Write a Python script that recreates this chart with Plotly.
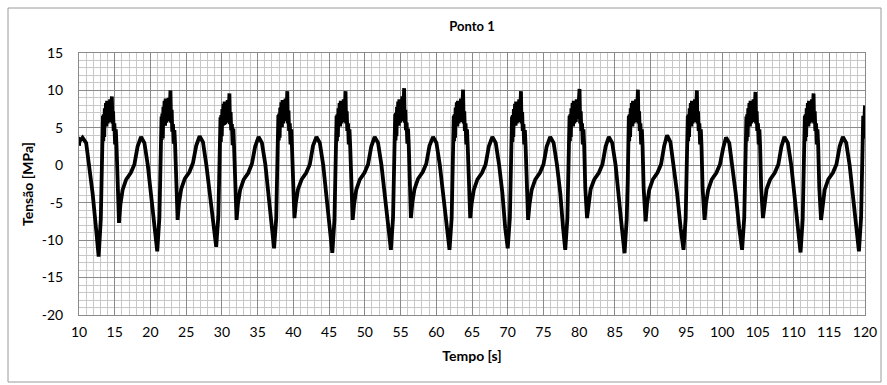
import plotly.graph_objects as go

# ---- data ----
tempo_s = [
    10.00, 10.08, 10.25, 10.50, 11.00, 11.45, 11.90, 12.40,
    # cycle 1
    12.75, 13.05, 13.20, 13.31, 13.35, 13.40, 13.46, 13.53, 13.61, 13.69, 13.77, 13.85, 13.93, 14.03, 14.13, 14.23,
    14.35, 14.47, 14.60, 14.68, 14.77, 14.85, 14.95, 15.05, 15.15, 15.25, 15.40, 15.60, 15.80, 16.10, 16.60, 17.25,
    17.75, 18.20, 18.68, 19.15, 19.63, 20.08, 20.55,
    # cycle 2
    20.95, 21.25, 21.40, 21.51, 21.55, 21.60, 21.66, 21.73, 21.81, 21.89, 21.97, 22.05, 22.13, 22.23, 22.33, 22.43,
    22.55, 22.67, 22.80, 22.88, 22.97, 23.05, 23.15, 23.25, 23.35, 23.45, 23.60, 23.80, 24.00, 24.30, 24.80, 25.45,
    25.95, 26.40, 26.88, 27.35, 27.83, 28.28, 28.75,
    # cycle 3
    29.20, 29.50, 29.65, 29.76, 29.80, 29.85, 29.91, 29.98, 30.06, 30.14, 30.22, 30.30, 30.38, 30.48, 30.58, 30.68,
    30.80, 30.92, 31.05, 31.13, 31.22, 31.30, 31.40, 31.50, 31.60, 31.70, 31.85, 32.05, 32.25, 32.55, 33.05, 33.70,
    34.20, 34.65, 35.13, 35.60, 36.08, 36.53, 37.00,
    # cycle 4
    37.30, 37.60, 37.75, 37.86, 37.90, 37.95, 38.01, 38.08, 38.16, 38.24, 38.32, 38.40, 38.48, 38.58, 38.68, 38.78,
    38.90, 39.02, 39.15, 39.23, 39.32, 39.40, 39.50, 39.60, 39.70, 39.80, 39.95, 40.15, 40.35, 40.65, 41.15, 41.80,
    42.30, 42.75, 43.23, 43.70, 44.18, 44.63, 45.10,
    # cycle 5
    45.45, 45.75, 45.90, 46.01, 46.05, 46.10, 46.16, 46.23, 46.31, 46.39, 46.47, 46.55, 46.63, 46.73, 46.83, 46.93,
    47.05, 47.17, 47.30, 47.38, 47.47, 47.55, 47.65, 47.75, 47.85, 47.95, 48.10, 48.30, 48.50, 48.80, 49.30, 49.95,
    50.45, 50.90, 51.38, 51.85, 52.33, 52.78, 53.25,
    # cycle 6
    53.65, 53.95, 54.10, 54.21, 54.25, 54.30, 54.36, 54.43, 54.51, 54.59, 54.67, 54.75, 54.83, 54.93, 55.03, 55.13,
    55.25, 55.37, 55.50, 55.58, 55.67, 55.75, 55.85, 55.95, 56.05, 56.15, 56.30, 56.45, 56.65, 56.95, 57.45, 58.10,
    58.60, 59.05, 59.55, 60.02, 60.50, 60.95, 61.42,
    # cycle 7
    61.85, 62.15, 62.30, 62.41, 62.45, 62.50, 62.56, 62.63, 62.71, 62.79, 62.87, 62.95, 63.03, 63.13, 63.23, 63.33,
    63.45, 63.57, 63.75, 63.83, 63.92, 64.00, 64.10, 64.20, 64.30, 64.40, 64.55, 64.75, 64.95, 65.25, 65.75, 66.40,
    66.90, 67.35, 67.85, 68.32, 68.80, 69.25, 69.65,
    # cycle 8
    70.00, 70.30, 70.45, 70.56, 70.60, 70.65, 70.71, 70.78, 70.86, 70.94, 71.02, 71.10, 71.18, 71.28, 71.38, 71.48,
    71.60, 71.72, 71.85, 71.93, 72.02, 72.10, 72.20, 72.30, 72.40, 72.50, 72.65, 72.85, 73.05, 73.35, 73.85, 74.50,
    75.00, 75.45, 75.95, 76.42, 76.90, 77.35, 77.75,
    # cycle 9
    78.05, 78.35, 78.50, 78.61, 78.65, 78.70, 78.76, 78.83, 78.91, 78.99, 79.07, 79.15, 79.23, 79.33, 79.43, 79.53,
    79.65, 79.80, 80.05, 80.13, 80.22, 80.30, 80.40, 80.50, 80.60, 80.70, 80.85, 81.10, 81.30, 81.60, 82.10, 82.75,
    83.25, 83.70, 84.15, 84.62, 85.10, 85.55, 86.00,
    # cycle 10
    86.35, 86.65, 86.80, 86.91, 86.95, 87.00, 87.06, 87.13, 87.21, 87.29, 87.37, 87.45, 87.53, 87.63, 87.73, 87.83,
    87.95, 88.07, 88.22, 88.30, 88.39, 88.47, 88.57, 88.67, 88.77, 88.87, 89.02, 89.30, 89.50, 89.80, 90.30, 90.95,
    91.45, 91.90, 92.30, 92.77, 93.25, 93.70, 94.20,
    # cycle 11
    94.60, 94.90, 95.05, 95.16, 95.20, 95.25, 95.31, 95.38, 95.46, 95.54, 95.62, 95.70, 95.78, 95.88, 95.98, 96.08,
    96.20, 96.32, 96.47, 96.55, 96.64, 96.72, 96.82, 96.92, 97.02, 97.12, 97.27, 97.55, 97.75, 98.05, 98.55, 99.20,
    99.70, 100.15, 100.55, 101.00, 101.45, 101.90, 102.40,
    # cycle 12
    102.80, 103.10, 103.25, 103.36, 103.40, 103.45, 103.51, 103.58, 103.66, 103.74, 103.82, 103.90, 103.98, 104.08,
    104.18, 104.28, 104.40, 104.52, 104.67, 104.75, 104.84, 104.92, 105.02, 105.12, 105.22, 105.32, 105.47, 105.72,
    105.92, 106.22, 106.72, 107.37, 107.87, 108.30, 108.72, 109.20, 109.68, 110.13, 110.60,
    # cycle 13
    110.98, 111.28, 111.43, 111.54, 111.58, 111.63, 111.69, 111.76, 111.84, 111.92, 112.00, 112.08, 112.16, 112.26,
    112.36, 112.46, 112.58, 112.68, 112.80, 112.88, 112.97, 113.05, 113.15, 113.25, 113.35, 113.45, 113.60, 113.85,
    114.05, 114.35, 114.85, 115.50, 116.00, 116.45, 116.90, 117.37, 117.85, 118.30, 118.78,
    # cycle 14
    119.15, 119.45, 119.60, 119.71, 119.75, 119.80, 119.86, 119.92, 120.00,
]

tensao_mpa = [
    2.6, 3.5, 3.4, 3.7, 3.0, 0.0, -3.7, -8.6,
    # cycle 1
    -12.2, -7.2, -2.0, 2.4, 6.6, 3.2, 6.8, 3.8, 7.6, 5.4, 8.3, 5.2, 8.6, 5.6, 7.9, 5.8,
    8.8, 6.2, 9.2, 5.6, 7.2, 4.6, 5.6, 2.8, 4.8, 2.6, -3.0, -7.7, -5.2, -3.3, -1.9, -1.0,
    0.1, 2.5, 3.8, 3.0, 0.0, -3.7, -8.4,
    # cycle 2
    -11.5, -7.0, -1.8, 2.6, 6.5, 3.4, 6.9, 3.6, 7.8, 5.5, 8.6, 5.3, 8.9, 5.7, 8.1, 5.9,
    9.0, 6.4, 10.0, 5.7, 7.4, 4.5, 5.5, 2.9, 4.7, 2.7, -2.8, -7.3, -5.0, -3.2, -1.8, -0.9,
    0.3, 2.6, 3.9, 3.1, 0.0, -3.6, -8.2,
    # cycle 3
    -10.9, -6.8, -1.9, 2.5, 6.4, 3.1, 6.7, 3.9, 7.5, 5.3, 8.2, 5.4, 8.5, 5.5, 7.8, 5.7,
    8.7, 6.1, 9.6, 5.5, 7.1, 4.7, 5.5, 2.7, 4.9, 2.5, -3.1, -7.3, -5.1, -3.3, -1.9, -1.0,
    0.2, 2.5, 3.8, 3.0, 0.1, -3.7, -8.3,
    # cycle 4
    -11.1, -7.1, -2.1, 2.3, 6.7, 3.3, 6.9, 3.7, 7.7, 5.5, 8.4, 5.1, 8.7, 5.6, 8.0, 5.9,
    8.9, 6.3, 9.9, 5.6, 7.3, 4.6, 5.6, 2.8, 4.8, 2.6, -2.9, -7.05, -5.0, -3.2, -1.9, -1.0,
    0.1, 2.6, 3.8, 3.0, 0.0, -3.8, -8.5,
    # cycle 5
    -11.7, -7.3, -2.0, 2.4, 6.6, 3.2, 6.8, 3.8, 7.6, 5.4, 8.3, 5.2, 8.6, 5.6, 7.9, 5.8,
    8.8, 6.2, 9.9, 5.6, 7.2, 4.6, 5.6, 2.8, 4.8, 2.6, -3.0, -7.3, -5.2, -3.3, -1.9, -1.0,
    0.1, 2.5, 3.8, 3.0, 0.0, -3.7, -8.4,
    # cycle 6
    -11.3, -7.0, -1.9, 2.5, 6.8, 3.3, 7.0, 3.9, 7.8, 5.6, 8.5, 5.3, 8.8, 5.7, 8.2, 5.9,
    9.2, 6.3, 10.3, 5.7, 7.4, 4.7, 5.7, 2.9, 4.9, 2.7, -2.8, -7.05, -5.0, -3.2, -1.8, -0.9,
    0.2, 2.6, 3.8, 3.0, 0.0, -3.6, -8.3,
    # cycle 7
    -11.3, -7.1, -2.0, 2.4, 6.6, 3.2, 6.8, 3.7, 7.7, 5.4, 8.4, 5.2, 8.6, 5.6, 8.0, 5.8,
    8.9, 6.2, 10.1, 5.6, 7.2, 4.6, 5.6, 2.8, 4.8, 2.6, -3.0, -7.05, -5.1, -3.3, -1.9, -1.0,
    0.1, 2.5, 3.8, 3.0, 0.0, -3.7, -8.4,
    # cycle 8
    -11.1, -7.0, -1.9, 2.5, 6.5, 3.1, 6.7, 3.8, 7.5, 5.4, 8.2, 5.3, 8.5, 5.6, 7.8, 5.8,
    8.8, 6.1, 9.9, 5.6, 7.1, 4.6, 5.5, 2.8, 4.7, 2.6, -3.0, -7.3, -5.2, -3.3, -1.9, -1.0,
    0.1, 2.5, 3.8, 3.0, 0.0, -3.7, -8.4,
    # cycle 9
    -11.3, -7.1, -2.0, 2.4, 6.6, 3.2, 6.8, 3.8, 7.6, 5.4, 8.3, 5.2, 8.6, 5.6, 7.9, 5.8,
    8.8, 6.2, 10.2, 5.6, 7.2, 4.6, 5.6, 2.8, 4.8, 2.6, -3.0, -7.05, -5.0, -3.2, -1.9, -1.0,
    0.1, 2.5, 3.8, 3.0, 0.0, -3.8, -8.6,
    # cycle 10
    -11.75, -7.2, -2.0, 2.4, 6.6, 3.2, 6.8, 3.8, 7.6, 5.4, 8.3, 5.2, 8.6, 5.6, 7.9, 5.8,
    8.8, 6.2, 10.1, 5.6, 7.2, 4.6, 5.6, 2.8, 4.8, 2.6, -3.0, -7.5, -5.2, -3.3, -1.9, -1.0,
    0.1, 2.6, 4.0, 3.1, 0.0, -3.7, -8.4,
    # cycle 11
    -11.3, -7.1, -2.0, 2.4, 6.6, 3.2, 6.8, 3.8, 7.6, 5.4, 8.3, 5.2, 8.6, 5.6, 7.9, 5.8,
    8.8, 6.2, 10.0, 5.6, 7.2, 4.6, 5.6, 2.8, 4.8, 2.6, -3.0, -7.3, -5.1, -3.3, -1.9, -1.0,
    0.1, 2.3, 3.7, 3.0, 0.0, -3.7, -8.4,
    # cycle 12
    -11.3, -7.0, -1.9, 2.5, 6.5, 3.2, 6.8, 3.8, 7.6, 5.4, 8.3, 5.2, 8.6, 5.6,
    7.9, 5.8, 8.8, 6.2, 9.8, 5.6, 7.2, 4.6, 5.6, 2.8, 4.8, 2.6, -3.0, -7.05,
    -5.0, -3.2, -1.9, -1.0, 0.1, 2.5, 3.8, 3.0, 0.0, -3.7, -8.4,
    # cycle 13
    -11.65, -7.2, -2.0, 2.4, 6.6, 3.2, 6.8, 3.8, 7.6, 5.4, 8.3, 5.2, 8.6, 5.6,
    7.9, 5.8, 8.8, 6.2, 9.6, 5.6, 7.2, 4.6, 5.6, 2.8, 4.8, 2.6, -3.0, -7.3,
    -5.2, -3.3, -1.9, -1.0, 0.1, 2.5, 3.8, 3.0, 0.0, -3.7, -8.4,
    # cycle 14
    -11.5, -7.0, -2.0, 2.4, 6.6, 3.6, 7.0, 3.8, 8.0,
]

x_tick_vals = list(range(10, 121, 5))
x_tick_text = [str(v) for v in x_tick_vals]
y_tick_vals = [-20, -15, -10, -5, 0, 5, 10, 15]
y_tick_text = ["-20", "-15", "-10", "-5", "0", "5", "10", "15"]

titulo = "Ponto 1"
x_titulo = "Tempo [s]"
y_titulo = "Tensão [MPa]"

FONT = "Lato, 'Open Sans', sans-serif"
MAJOR = "#8a8a8a"
MINOR = "#c8c8c8"

fig = go.Figure()
fig.add_trace(go.Scatter(
    x=tempo_s, y=tensao_mpa, mode="lines",
    line=dict(color="#000000", width=3.8),
    showlegend=False, hoverinfo="x+y",
))

W, H = 887, 385
L, R, T, B = 79, 22, 53, 70
pw, ph = W - L - R, H - T - B

def px_to_paper_x(px):
    return (px - L) / pw

def py_to_paper_y(py):
    return (H - B - py) / ph

fig.update_layout(
    width=W, height=H,
    margin=dict(l=L, r=R, t=T, b=B, pad=0, autoexpand=False),
    paper_bgcolor="white", plot_bgcolor="white",
    font=dict(family=FONT, size=14, color="#000000"),
    title=dict(text="<b>" + titulo + "</b>", x=0.5, xanchor="center", xref="paper",
               y=1 - 26 / H, yanchor="middle", font=dict(size=13, family=FONT)),
    xaxis=dict(
        range=[10, 120], tickvals=x_tick_vals, ticktext=x_tick_text, ticks="",
        showline=True, linecolor=MAJOR, linewidth=1, automargin=False,
        mirror=True, showgrid=True, gridcolor=MAJOR, gridwidth=1, zeroline=False,
        minor=dict(dtick=1, tick0=10, showgrid=True, gridcolor=MINOR, gridwidth=1),
        tickfont=dict(size=14), ticklabelstandoff=4,
        title=dict(text="<b>" + x_titulo + "</b>", font=dict(size=14), standoff=12),
    ),
    yaxis=dict(
        range=[-20, 15], tickvals=y_tick_vals, ticktext=y_tick_text, ticks="",
        showline=True, linecolor=MAJOR, linewidth=1, automargin=False,
        mirror=True, showgrid=True, gridcolor=MAJOR, gridwidth=1, zeroline=False,
        minor=dict(dtick=1, tick0=0, showgrid=True, gridcolor=MINOR, gridwidth=1),
        tickfont=dict(size=14), ticklabelstandoff=12,
        title=dict(text="<b>" + y_titulo + "</b>", font=dict(size=14), standoff=4),
    ),
    shapes=[dict(
        type="rect", xref="paper", yref="paper",
        x0=px_to_paper_x(8), x1=px_to_paper_x(881),
        y0=py_to_paper_y(382), y1=py_to_paper_y(8),
        line=dict(color="#9a9a9a", width=1), fillcolor="rgba(0,0,0,0)", layer="below",
    )],
)

fig.write_html("out.html", config={"displayModeBar": False},
               post_script="document.body.style.margin='0';")
